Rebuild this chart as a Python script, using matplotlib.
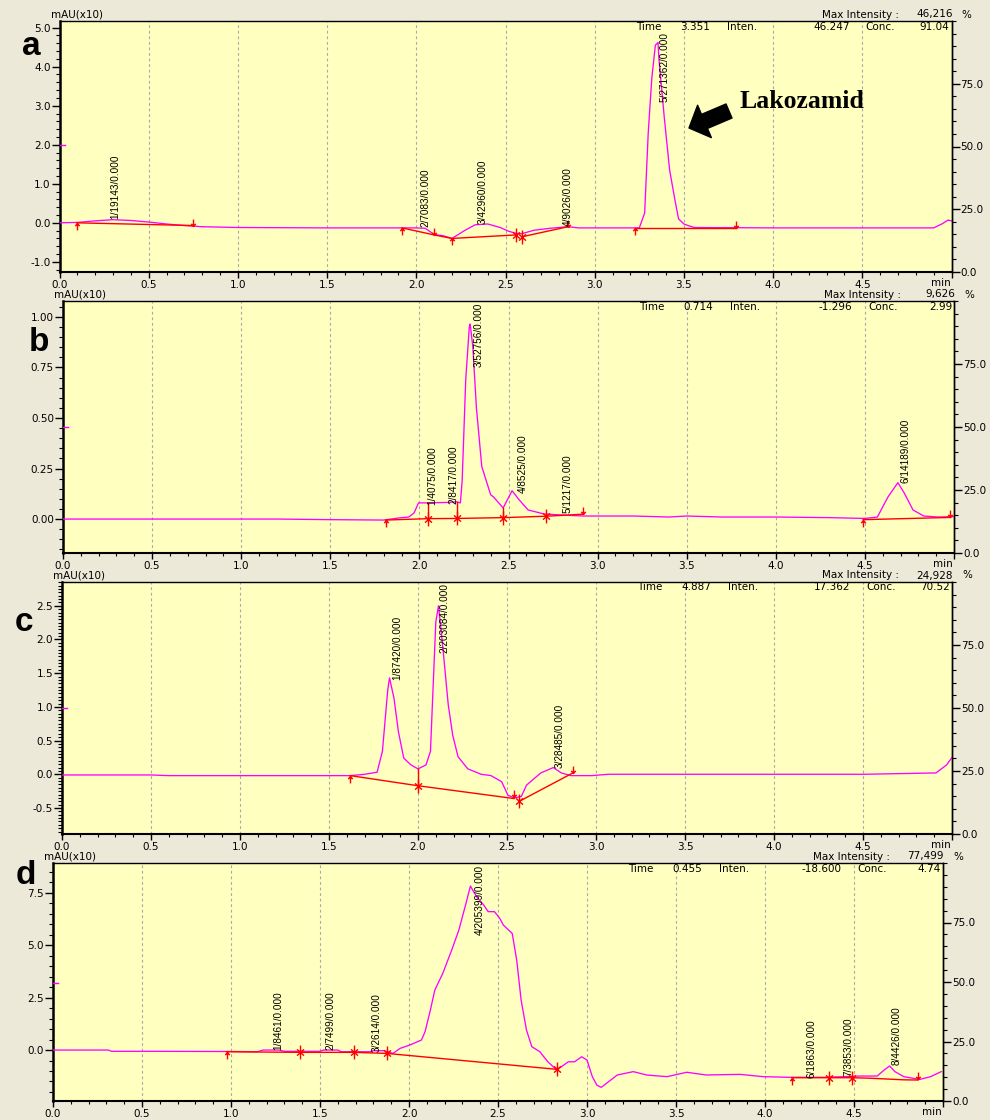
import matplotlib
matplotlib.use("Agg")
import matplotlib.pyplot as plt
from matplotlib.path import Path
from matplotlib.ticker import FixedLocator, MultipleLocator, FuncFormatter
from matplotlib import font_manager as fm

# ------------------------------------------------------------------ data
# panel a
a_time = [0.00, 0.10, 0.20, 0.30, 0.40, 0.50, 0.60, 0.70, 0.80, 1.00, 1.50, 2.00, 2.05, 2.10,
          2.15, 2.20, 2.27, 2.33, 2.40, 2.47, 2.52, 2.56, 2.59, 2.66, 2.75, 2.85, 2.91, 3.10,
          3.25, 3.28, 3.30, 3.32, 3.34, 3.355, 3.36, 3.39, 3.42, 3.45, 3.47, 3.50, 3.53, 3.56,
          4.00, 4.50, 4.90, 4.95, 4.98, 5.00]
a_signal = [0.00, 0.01, 0.05, 0.08, 0.06, 0.02, -0.03, -0.07, -0.10, -0.12, -0.13, -0.13, -0.14, -0.30,
            -0.33, -0.40, -0.20, -0.05, -0.03, -0.12, -0.22, -0.27, -0.28, -0.19, -0.14, -0.10, -0.13, -0.13,
            -0.13, 0.25, 2.30, 3.70, 4.55, 4.62, 4.20, 2.70, 1.35, 0.58, 0.10, -0.03, -0.08, -0.12,
            -0.13, -0.13, -0.13, -0.02, 0.07, 0.05]
a_baselines = [([0.097, 0.75], [0.00, -0.07]),
               ([1.92, 2.10, 2.20, 2.56], [-0.13, -0.31, -0.40, -0.31]),
               ([2.59, 2.85], [-0.36, -0.10]),
               ([3.225, 3.79], [-0.13, -0.13])]
a_drops = []
a_up = [(0.097, 0.00), (1.92, -0.13), (2.20, -0.40), (3.225, -0.13)]
a_down = [(0.75, -0.07), (2.10, -0.31), (2.85, -0.10), (3.79, -0.13)]
a_star = [(2.56, -0.30), (2.59, -0.36)]
a_labels = [("1/19143/0.000", 0.31, 0.10, "bottom"),
            ("2/7083/0.000", 2.05, -0.10, "bottom"),
            ("3/42960/0.000", 2.37, -0.03, "bottom"),
            ("4/9026/0.000", 2.85, -0.08, "bottom"),
            ("5/271362/0.000", 3.39, 4.88, "top")]
a_header = ("46,216", "3.351", "46.247", "91.04")
a_ref = 2.0

# panel b
b_time = [0.0, 0.5, 1.0, 1.2, 1.5, 1.8, 1.89, 1.94, 1.97, 1.995, 2.05, 2.15, 2.21, 2.23, 2.24,
          2.26, 2.28, 2.285, 2.30, 2.32, 2.35, 2.40, 2.415, 2.47, 2.52, 2.56, 2.61, 2.70, 2.80,
          2.92, 3.0, 3.2, 3.4, 3.5, 3.7, 4.0, 4.3, 4.5, 4.57, 4.63, 4.685, 4.72, 4.77, 4.83,
          4.91, 5.0]
b_signal = [0.0, 0.0, 0.0, 0.0, -0.003, -0.005, 0.006, 0.01, 0.03, 0.08, 0.08, 0.082, 0.085, 0.08, 0.19,
            0.69, 0.95, 0.965, 0.85, 0.55, 0.26, 0.12, 0.11, 0.055, 0.14, 0.095, 0.045, 0.025, 0.02,
            0.015, 0.015, 0.015, 0.01, 0.015, 0.01, 0.01, 0.007, 0.003, 0.01, 0.11, 0.18, 0.13, 0.045, 0.015,
            0.01, 0.012]
b_baselines = [([1.81, 2.05, 2.21, 2.47, 2.71, 2.92], [-0.005, 0.002, 0.003, 0.007, 0.014, 0.024]),
               ([4.49, 4.98], [-0.003, 0.008])]
b_drops = [(2.05, 0.002, 0.08), (2.21, 0.003, 0.085), (2.47, 0.007, 0.055), (2.71, 0.014, 0.025)]
b_up = [(1.81, -0.005), (4.49, -0.003)]
b_down = [(2.92, 0.024), (4.98, 0.008)]
b_star = [(2.05, 0.002), (2.21, 0.003), (2.47, 0.007), (2.71, 0.014)]
b_labels = [("1/4075/0.000", 2.07, 0.07, "bottom"),
            ("2/8417/0.000", 2.19, 0.075, "bottom"),
            ("3/52756/0.000", 2.33, 1.07, "top"),
            ("4/8525/0.000", 2.58, 0.13, "bottom"),
            ("5/1217/0.000", 2.83, 0.03, "bottom"),
            ("6/14189/0.000", 4.73, 0.18, "bottom")]
b_header = ("9,626", "0.714", "-1.296", "2.99")
b_ref = 0.455

# panel c
c_time = [0.0, 0.5, 0.6, 1.0, 1.5, 1.62, 1.70, 1.77, 1.80, 1.83, 1.84, 1.865, 1.89, 1.92, 1.96,
          2.00, 2.045, 2.07, 2.09, 2.10, 2.115, 2.14, 2.17, 2.195, 2.225, 2.28, 2.355, 2.41, 2.47,
          2.505, 2.54, 2.58, 2.61, 2.69, 2.76, 2.805, 2.86, 2.975, 3.07, 3.5, 4.0, 4.5, 4.91, 4.97,
          5.0]
c_signal = [-0.01, -0.01, -0.02, -0.02, -0.02, -0.02, 0.0, 0.03, 0.34, 1.25, 1.43, 1.13, 0.63, 0.24, 0.14,
            0.08, 0.14, 0.34, 1.62, 2.26, 2.50, 1.87, 1.03, 0.58, 0.26, 0.08, 0.0, -0.02, -0.11,
            -0.31, -0.35, -0.33, -0.16, 0.02, 0.10, 0.02, -0.02, -0.02, 0.0, 0.0, 0.0, 0.0, 0.02, 0.14,
            0.25]
c_baselines = [([1.62, 2.00, 2.54], [-0.02, -0.17, -0.36]),
               ([2.57, 2.87], [-0.40, 0.02])]
c_drops = [(2.00, -0.17, 0.08)]
c_up = [(1.62, -0.02)]
c_down = [(2.54, -0.34), (2.87, 0.02)]
c_star = [(2.00, -0.17), (2.57, -0.40)]
c_labels = [("1/87420/0.000", 1.885, 1.40, "bottom"),
            ("2/203084/0.000", 2.15, 2.84, "top"),
            ("3/28485/0.000", 2.795, 0.09, "bottom")]
c_header = ("24,928", "4.887", "17.362", "70.52")
c_ref = 0.98

# panel d
d_time = [0.0, 0.31, 0.33, 0.6, 1.0, 1.15, 1.18, 1.27, 1.30, 1.50, 1.52, 1.60, 1.62, 1.78, 1.80,
          1.86, 1.91, 1.95, 2.005, 2.07, 2.09, 2.12, 2.145, 2.19, 2.24, 2.28, 2.315, 2.345, 2.38,
          2.42, 2.445, 2.48, 2.51, 2.53, 2.58, 2.605, 2.63, 2.66, 2.69, 2.735, 2.78, 2.83, 2.895,
          2.93, 2.97, 3.0, 3.03, 3.055, 3.08, 3.17, 3.26, 3.335, 3.45, 3.56, 3.67, 3.86, 3.99,
          4.14, 4.33, 4.44, 4.53, 4.63, 4.67, 4.70, 4.73, 4.78, 4.87, 4.93, 4.99]
d_signal = [0.0, 0.0, -0.06, -0.06, -0.07, -0.08, 0.0, 0.0, -0.06, -0.06, 0.0, 0.0, -0.08, -0.08, -0.03,
            -0.03, -0.16, 0.08, 0.24, 0.48, 0.87, 1.90, 2.86, 3.66, 4.77, 5.72, 6.83, 7.82, 7.31,
            6.91, 6.60, 6.60, 6.28, 5.96, 5.56, 4.29, 2.38, 0.95, 0.16, -0.08, -0.56, -0.95, -0.56,
            -0.56, -0.32, -0.48, -1.27, -1.67, -1.78, -1.19, -1.03, -1.19, -1.27, -1.06, -1.19, -1.16, -1.27,
            -1.30, -1.30, -1.27, -1.24, -1.24, -0.95, -0.76, -1.03, -1.27, -1.40, -1.27, -1.03]
d_baselines = [([0.976, 1.39, 1.69, 1.875, 2.83], [-0.08, -0.11, -0.11, -0.16, -0.92]),
               ([4.15, 4.36, 4.49, 4.58, 4.78, 4.86], [-1.32, -1.32, -1.32, -1.34, -1.42, -1.43])]
d_drops = []
d_up = [(0.976, -0.08), (4.15, -1.32)]
d_down = [(4.86, -1.40)]
d_star = [(1.39, -0.11), (1.69, -0.11), (1.875, -0.16), (2.83, -0.92), (4.36, -1.32), (4.49, -1.32)]
d_labels = [("1/8461/0.000", 1.265, 0.0, "bottom"),
            ("2/7499/0.000", 1.56, 0.0, "bottom"),
            ("3/2614/0.000", 1.82, -0.10, "bottom"),
            ("4/205399/0.000", 2.40, 8.82, "top"),
            ("6/1863/0.000", 4.26, -1.35, "bottom"),
            ("7/3853/0.000", 4.47, -1.22, "bottom"),
            ("8/4426/0.000", 4.74, -0.72, "bottom")]
d_header = ("77,499", "0.455", "-18.600", "4.74")
d_ref = 3.2

x_tick_values = [0.0, 0.5, 1.0, 1.5, 2.0, 2.5, 3.0, 3.5, 4.0, 4.5, 5.0]
right_tick_values = [0.0, 25.0, 50.0, 75.0]
panel_letters = ["a", "b", "c", "d"]
annotation_text = "Lakozamid"


# ------------------------------------------------------------------ helpers
def has_font(name):
    try:
        fm.findfont(fm.FontProperties(family=name), fallback_to_default=False)
        return True
    except Exception:
        return False


if has_font("Liberation Sans Narrow"):
    NARROW, NARROW_SIZE = "Liberation Sans Narrow", 8.5
elif has_font("Liberation Sans"):
    NARROW, NARROW_SIZE = "Liberation Sans", 7.2
else:
    NARROW, NARROW_SIZE = "DejaVu Sans", 6.8
SANS = "DejaVu Sans"
plt.rcParams["font.family"] = [SANS]

W, H = 990, 1120
BG = "#ECE9D8"
PLOT_BG = "#FFFFC0"
MAGENTA = "#FF00FF"
RED = "#FF0000"

fig = plt.figure(figsize=(W / 100, H / 100), dpi=100, facecolor=BG)

UP = Path([(0, 0), (0, -1), (-0.32, -0.38), (0, 0), (0.32, -0.38)],
          [Path.MOVETO, Path.LINETO, Path.MOVETO, Path.LINETO, Path.LINETO])
DOWN = Path([(0, 0), (0, 1), (-0.32, 0.38), (0, 0), (0.32, 0.38)],
            [Path.MOVETO, Path.LINETO, Path.MOVETO, Path.LINETO, Path.LINETO])
STAR = Path([(0, -1), (0, 1), (-0.5, -0.45), (0.5, 0.45), (-0.5, 0.45), (0.5, -0.45)],
            [Path.MOVETO, Path.LINETO, Path.MOVETO, Path.LINETO, Path.MOVETO, Path.LINETO])


def draw_panel(box, ylim, yticks, yfmt, yminor, t, v, segs, drops, ups, downs, stars,
               labels, header, ref_level):
    l, top, r, b = box
    ax = fig.add_axes([l / W, 1 - b / H, (r - l) / W, (b - top) / H])
    ax.set_facecolor(PLOT_BG)
    ax.set_xlim(0, 5)
    ax.set_ylim(*ylim)
    for g in x_tick_values[1:-1]:
        ax.axvline(g, color="#A9A9A9", lw=0.8, ls=(0, (2.5, 2.5)), zorder=1)

    ax.plot(t, v, color=MAGENTA, lw=0.95, zorder=3)
    ax.plot([0, 0.03], [ref_level, ref_level], color=MAGENTA, lw=1.0, zorder=3)
    for st, sv in segs:
        ax.plot(st, sv, color=RED, lw=1.0, zorder=4)
    for dt, d0, d1 in drops:
        ax.plot([dt, dt], [d0, d1], color=RED, lw=1.0, zorder=4)
    for pts, mk in ((ups, UP), (downs, DOWN), (stars, STAR)):
        if pts:
            ax.plot([p[0] for p in pts], [p[1] for p in pts], linestyle="none",
                    marker=mk, markersize=10, markerfacecolor="none",
                    markeredgecolor=RED, markeredgewidth=1.0, zorder=5)

    for s, lt, lv, va in labels:
        ax.text(lt, lv, s, rotation=90, ha="center", va=va, fontsize=NARROW_SIZE,
                family=[NARROW, "DejaVu Sans"], color="black", zorder=6)

    # x axis
    ax.xaxis.set_major_locator(FixedLocator(x_tick_values))
    ax.xaxis.set_minor_locator(MultipleLocator(0.1))
    ax.xaxis.set_major_formatter(FuncFormatter(lambda x, p: "" if abs(x - 5) < 1e-6 else f"{x:.1f}"))
    ax.tick_params(axis="x", which="major", direction="out", length=4.5, width=1, pad=1.5,
                   labelsize=7.5, colors="black")
    ax.tick_params(axis="x", which="minor", direction="out", length=2.5, width=0.8)
    # left axis
    ax.yaxis.set_major_locator(FixedLocator(yticks))
    ax.yaxis.set_minor_locator(MultipleLocator(yminor))
    ax.yaxis.set_major_formatter(FuncFormatter(lambda y, p: yfmt.format(y)))
    ax.tick_params(axis="y", which="major", direction="out", length=5.5, width=1, pad=1,
                   labelsize=7.5)
    ax.tick_params(axis="y", which="minor", direction="out", length=2.8, width=0.8)
    for side, lw in (("left", 1.8), ("bottom", 1.5), ("top", 1.0), ("right", 1.0)):
        ax.spines[side].set_linewidth(lw)
        ax.spines[side].set_color("black")

    # right axis (percent)
    ax2 = ax.twinx()
    ax2.set_ylim(0, 100)
    ax2.yaxis.set_major_locator(FixedLocator(right_tick_values))
    ax2.yaxis.set_minor_locator(MultipleLocator(5))
    ax2.yaxis.set_major_formatter(FuncFormatter(lambda y, p: f"{y:.1f}"))
    ax2.tick_params(axis="y", which="major", direction="out", length=5.5, width=1, pad=1,
                    labelsize=7.5)
    ax2.tick_params(axis="y", which="minor", direction="out", length=2.8, width=0.8)
    for side in ("left", "top", "bottom"):
        ax2.spines[side].set_visible(False)
    ax2.spines["right"].set_linewidth(1.0)

    # header texts
    def ann(s, dx, dy, ha):
        ax.annotate(s, xy=(1, 1), xycoords="axes fraction", xytext=(dx, dy),
                    textcoords="offset pixels", ha=ha, va="center", fontsize=7.5, zorder=7)

    maxv, tm, inten, conc = header
    ann("Max Intensity :", -130, 6.5, "left")
    ann(maxv, 1, 6.5, "right")
    ann("%", 10, 6.5, "left")
    ann("Time", -315, -5.5, "left")
    ann(tm, -271, -5.5, "left")
    ann("Inten.", -224, -5.5, "left")
    ann(inten, -102, -5.5, "right")
    ann("Conc.", -86, -5.5, "left")
    ann(conc, -2, -5.5, "right")
    ax.annotate("mAU(x10)", xy=(0, 1), xycoords="axes fraction", xytext=(-9, 6.5),
                textcoords="offset pixels", ha="left", va="center", fontsize=7.5)
    ax.annotate("min", xy=(1, 0), xycoords="axes fraction", xytext=(-1, -11),
                textcoords="offset pixels", ha="right", va="center", fontsize=7.5)
    return ax


panels = [
    ((59.5, 21, 951.5, 272), (-1.26, 5.17), [-1.0, 0.0, 1.0, 2.0, 3.0, 4.0, 5.0], "{:.1f}", 0.2,
     a_time, a_signal, a_baselines, a_drops, a_up, a_down, a_star, a_labels, a_header, a_ref),
    ((63, 301, 954, 553), (-0.168, 1.079), [0.0, 0.25, 0.5, 0.75, 1.0], "{:.2f}", 0.05,
     b_time, b_signal, b_baselines, b_drops, b_up, b_down, b_star, b_labels, b_header, b_ref),
    ((62, 582, 952, 834), (-0.886, 2.853), [-0.5, 0.0, 0.5, 1.0, 1.5, 2.0, 2.5], "{:.1f}", 0.05,
     c_time, c_signal, c_baselines, c_drops, c_up, c_down, c_star, c_labels, c_header, c_ref),
    ((53, 863, 943, 1101), (-2.43, 8.92), [0.0, 2.5, 5.0, 7.5], "{:.1f}", 0.5,
     d_time, d_signal, d_baselines, d_drops, d_up, d_down, d_star, d_labels, d_header, d_ref),
]

axes = [draw_panel(*p) for p in panels]

# panel letters
letter_pos = [(31, 55), (38.5, 351), (24, 631), (26, 884)]
for letter, (px, py) in zip(panel_letters, letter_pos):
    fig.text(px / W, 1 - py / H, letter, ha="center", va="baseline", fontsize=24,
             fontweight="bold", family=["Liberation Sans", "DejaVu Sans"], color="black")

# Lakozamid arrow + label
axes[0].annotate("", xy=(689, H - 128), xycoords="figure pixels",
                 xytext=(729, H - 111), textcoords="figure pixels",
                 arrowprops=dict(arrowstyle="simple,head_length=1.1,head_width=2.3,tail_width=1.0",
                                 color="black", mutation_scale=11, shrinkA=0, shrinkB=0))
fig.text(740 / W, 1 - 102 / H, annotation_text, ha="left", va="center", fontsize=18.5,
         fontweight="bold", family=["Liberation Serif", "DejaVu Serif"], color="black")

fig.savefig("out.png", dpi=100, facecolor=BG)
